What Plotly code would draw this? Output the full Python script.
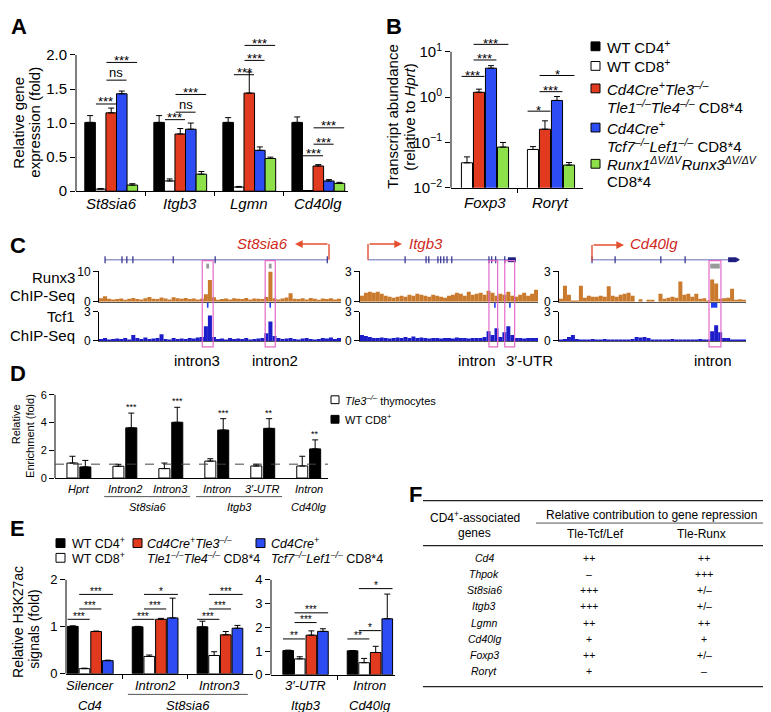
import math
import plotly.graph_objects as go

W, H = 771, 712
def X(px): return px / W
def Y(py): return 1 - py / H

FONT = "Liberation Sans, Arial, Helvetica, sans-serif"
C_CD4, C_CD8, C_TLE, C_TCF, C_RUNX = "#000000", "#FFFFFF", "#E23A1E", "#2D4CF3", "#8EE04A"
C_R3, C_T1 = "#C97A2C", "#1C1CC8"
PINK, ARW, NAMEC = "#E46AC8", "#E4502F", "#D0281C"

# ================= DATA =================
# Panel A
a_genes = ["St8sia6", "Itgb3", "Lgmn", "Cd40lg"]
a_wt_cd4 = [1.01, 1.01, 1.01, 1.01]
a_wt_cd4_err = [0.10, 0.10, 0.07, 0.08]
a_wt_cd8 = [0.03, 0.15, 0.06, 0.01]
a_wt_cd8_err = [0.01, 0.03, 0.01, 0.0]
a_tle = [1.15, 0.84, 1.44, 0.37]
a_tle_err = [0.07, 0.08, 0.31, 0.02]
a_tcf = [1.43, 0.91, 0.60, 0.15]
a_tcf_err = [0.04, 0.09, 0.05, 0.02]
a_runx = [0.09, 0.25, 0.48, 0.115]
a_runx_err = [0.02, 0.04, 0.02, 0.015]
a_sig = [(0, 1, 2, 1.28, "***"), (0, 2, 3, 1.63, "ns"), (0, 2, 4, 1.89, "***"),
         (1, 1, 2, 1.05, "***"), (1, 2, 3, 1.16, "ns"), (1, 2, 4, 1.42, "***"),
         (2, 1, 2, 1.71, "***"), (2, 2, 3, 1.92, "***"), (2, 2, 4, 2.14, "***"),
         (3, 1, 2, 0.52, "***"), (3, 2, 3, 0.69, "***"), (3, 2, 4, 0.93, "***")]

# Panel B (log scale)
b_genes = ["Foxp3", "Rorγt"]
b_wt_cd8 = [0.0356, 0.070]
b_wt_cd8_err = [0.0124, 0.011]
b_tle = [1.28, 0.196]
b_tle_err = [0.22, 0.104]
b_tcf = [4.35, 0.845]
b_tcf_err = [0.60, 0.185]
b_runx = [0.079, 0.0317]
b_runx_err = [0.021, 0.0043]
b_sig = [(0, 0, 1, 2.87, "***"), (0, 1, 2, 6.6, "***"), (0, 1, 3, 14.6, "***"),
         (1, 0, 1, 0.49, "*"), (1, 1, 2, 1.32, "***"), (1, 1, 3, 3.0, "*")]

# Panel C (ChIP-Seq signal, binned)
st8_runx3 = [1.2, 1.8, 1.0, 0.8, 0.9, 1.1, 0.7, 1.0, 1.3, 0.9,
             0.8, 1.2, 1.6, 1.0, 0.9, 1.4, 1.1, 0.8, 1.5, 1.2,
             1.0, 1.3, 0.9, 1.1, 0.8, 1.0, 2.5, 7.2, 1.5, 0.7,
             0.9, 1.1, 0.8, 1.2, 1.0, 0.9, 1.3, 0.8, 1.1, 1.0,
             0.9, 1.6, 10.0, 1.2, 0.8, 1.1, 1.4, 2.8, 1.0, 0.9,
             1.2, 0.8, 1.3, 1.0, 0.7, 1.1, 0.9, 1.2, 0.8, 1.0]
st8_tcf1 = [0.2, 0.3, 0.15, 0.2, 0.25, 0.2, 0.3, 0.15, 0.6, 0.3,
            0.2, 0.35, 0.2, 0.25, 0.3, 0.7, 0.2, 0.15, 0.3, 0.2,
            0.25, 0.2, 0.3, 0.25, 0.35, 0.4, 1.5, 2.6, 0.4, 0.2,
            0.25, 0.15, 0.3, 0.2, 0.25, 0.2, 0.3, 0.15, 0.2, 0.25,
            0.3, 0.8, 2.0, 0.5, 0.3, 0.2, 0.25, 0.3, 0.2, 0.15,
            0.25, 0.3, 0.2, 0.15, 0.2, 0.3, 0.25, 0.35, 0.2, 0.3]
itgb3_runx3 = [0.6, 0.9, 1.0, 0.9, 1.0, 0.8, 0.6, 0.5, 0.4, 0.5,
               0.6, 0.5, 0.7, 0.6, 0.8, 0.7, 0.6, 0.5, 0.7, 0.6,
               0.5, 0.4, 0.6, 0.7, 0.9, 0.8, 0.6, 1.0, 0.7, 0.8,
               0.9, 0.7, 1.1, 0.9, 0.6, 0.8, 0.7, 1.0, 0.6, 0.5,
               0.7, 0.9, 0.6, 0.8, 1.2]
itgb3_tcf1 = [0.6, 0.5, 0.4, 0.3, 0.3, 0.35, 0.3, 0.25, 0.3, 0.35,
              0.3, 0.4, 0.3, 0.45, 0.3, 0.35, 0.3, 0.25, 0.3, 0.3,
              0.25, 0.3, 0.3, 0.25, 0.35, 0.3, 0.3, 0.25, 0.3, 0.3,
              0.3, 0.4, 1.0, 0.6, 1.3, 0.4, 0.9, 1.5, 0.6, 0.3,
              0.3, 0.25, 0.3, 0.3, 0.3]
cd40lg_runx3 = [0.3, 1.6, 0.7, 0.1, 0.1, 1.6, 0.4, 0.6, 0.5, 0.5,
                0.6, 0.5, 1.55, 0.6, 0.5, 0.7, 0.8, 0.9, 0.6, 0.0,
                0.25, 0.0, 0.2, 0.2, 0.0, 0.8, 0.3, 0.4, 0.5, 0.4,
                2.0, 0.7, 0.8, 0.5, 0.8, 0.3, 0.35, 0.1, 2.2, 1.8,
                0.3, 0.35, 0.4, 1.3, 0.2, 0.25, 0.2]
cd40lg_tcf1 = [0.05, 0.2, 0.4, 0.6, 0.2, 0.1, 0.05, 0.1, 0.2, 0.1,
               0.15, 0.2, 0.05, 0.1, 0.15, 0.05, 0.05, 0.05, 0.2, 0.4,
               0.35, 0.4, 0.3, 0.15, 0.05, 0.05, 0.05, 0.15, 0.2, 0.15,
               0.1, 0.15, 0.05, 0.05, 0.05, 0.2, 0.15, 0.1, 1.0, 1.6,
               0.9, 0.3, 0.3, 0.1, 0.05, 0.05, 0.1]
# gene models / peak regions (bin units)
st8_gene = (1.0, 56.3); st8_exons = [1.0, 5.2, 6.4, 7.9, 17.9, 28.3, 56.1]
st8_boxes = [(25.1, 27.8), (40.7, 43.2)]
itgb3_gene = (1.5, 38.9); itgb3_exons = [10.9, 16.2, 16.9, 19.2, 19.9, 20.7, 21.5, 22.7, 32.1, 32.8, 33.8, 36.1]
itgb3_utr = (36.9, 38.9)
itgb3_boxes = [(32.1, 34.3), (36.1, 38.6)]
cd40lg_gene = (7.8, 44.0); cd40lg_exons = [7.8, 13.6, 25.1, 31.2]
cd40lg_utr = (42.0, 44.0)
cd40lg_boxes = [(37.2, 40.2)]

# Panel D
d_labels = ["Hprt", "Intron2", "Intron3", "Intron", "3′-UTR", "Intron"]
d_tle3 = [1.08, 0.85, 0.68, 1.22, 0.87, 0.87]
d_tle3_err = [0.49, 0.14, 0.40, 0.17, 0.12, 0.70]
d_cd8 = [0.80, 3.62, 4.02, 3.46, 3.58, 2.10]
d_cd8_err = [0.47, 1.06, 1.08, 0.82, 0.70, 0.65]
d_stars = ["", "***", "***", "***", "**", "**"]

# Panel E
e1_labels = ["Silencer", "Intron2", "Intron3"]
e1_cd4 = [1.01, 1.00, 1.00]; e1_cd4_err = [0.01, 0.01, 0.12]
e1_cd8 = [0.11, 0.37, 0.39]; e1_cd8_err = [0.01, 0.03, 0.08]
e1_tle = [0.90, 1.16, 0.83]; e1_tle_err = [0.01, 0.02, 0.07]
e1_tcf = [0.28, 1.19, 0.97]; e1_tcf_err = [0.01, 0.42, 0.06]
e1_sig = [(g, 0, 1, 1.16, "***") for g in range(3)] + \
         [(0, 1, 2, 1.38, "***"), (1, 1, 2, 1.38, "***"), (2, 1, 2, 1.38, "***")] + \
         [(0, 1, 3, 1.69, "***"), (1, 1, 3, 1.69, "*"), (2, 1, 3, 1.69, "***")]
e2_labels = ["3′-UTR", "Intron"]
e2_cd4 = [1.02, 1.01]; e2_cd4_err = [0.02, 0.01]
e2_cd8 = [0.67, 0.51]; e2_cd8_err = [0.09, 0.18]
e2_tle = [1.67, 0.94]; e2_tle_err = [0.18, 0.26]
e2_tcf = [1.83, 2.36]; e2_tcf_err = [0.11, 1.04]
e2_sig = [(0, 0, 1, 1.51, "**"), (0, 1, 2, 2.2, "***"), (0, 1, 3, 2.61, "***"),
          (1, 0, 1, 1.51, "**"), (1, 1, 2, 1.86, "*"), (1, 1, 3, 3.63, "*")]

# Panel F table
f_genes = ["Cd4", "Thpok", "St8sia6", "Itgb3", "Lgmn", "Cd40lg", "Foxp3", "Rorγt"]
f_tcf = ["++", "–", "+++", "+++", "++", "+", "++", "+"]
f_runx = ["++", "+++", "+/–", "+/–", "++", "+", "+/–", "–"]

# ================= FIGURE =================
fig = go.Figure()
ann, shp, lay = [], [], {}

def ids(n):
    return ("x" if n == 1 else f"x{n}"), ("y" if n == 1 else f"y{n}")

def txt(px, py, text, size, xanchor="center", yanchor="middle", color="black", angle=0):
    ann.append(dict(x=X(px), y=Y(py), xref="paper", yref="paper", text=text, showarrow=False,
                    font=dict(family=FONT, size=size, color=color), xanchor=xanchor,
                    yanchor=yanchor, textangle=angle, borderpad=0))

def pline(x0, y0, x1, y1, color="black", width=1, dash="solid"):
    shp.append(dict(type="line", xref="paper", yref="paper", x0=X(x0), y0=Y(y0), x1=X(x1), y1=Y(y1),
                    line=dict(color=color, width=width, dash=dash)))

def prect(x0, y0, x1, y1, fill, lc="black", lw=1):
    shp.append(dict(type="rect", xref="paper", yref="paper", x0=X(x0), y0=Y(y0), x1=X(x1), y1=Y(y1),
                    fillcolor=fill, line=dict(color=lc, width=lw)))

def axes(n, xpx, ypx, xr, yr, ytv=None, ytt=None, ylog=False, xtv=None, tfs=12, yline=True,
         xlinecolor="black"):
    xa, ya = ids(n)
    xk = "xaxis" if n == 1 else f"xaxis{n}"
    yk = "yaxis" if n == 1 else f"yaxis{n}"
    lay[xk] = dict(domain=[X(xpx[0]), X(xpx[1])], range=xr, anchor=ya, showgrid=False, zeroline=False,
                   showline=True, linecolor=xlinecolor, linewidth=1, showticklabels=False,
                   tickvals=xtv if xtv else [], ticks="outside" if xtv else "", ticklen=4,
                   tickcolor="black", fixedrange=True)
    lay[yk] = dict(domain=[Y(ypx[0]), Y(ypx[1])], range=yr, anchor=xa, type="log" if ylog else "linear",
                   showgrid=False, zeroline=False, showline=yline, linecolor="black", linewidth=1,
                   tickvals=ytv, ticktext=ytt, ticks="outside", ticklen=5, tickcolor="black",
                   tickfont=dict(family=FONT, size=tfs, color="black"), fixedrange=True)

def bars(n, ncat, series, s, bw, capw=3):
    xa, ya = ids(n)
    k = len(series)
    for i, (vals, errs, col) in enumerate(series):
        off = (i - k / 2) * s + (s - bw) / 2
        fig.add_trace(go.Bar(x=list(range(ncat)), y=vals, width=bw, offset=off,
                             marker=dict(color=col, line=dict(color="black", width=1)),
                             error_y=dict(type="data", symmetric=False, array=errs, arrayminus=[0] * ncat,
                                          color="black", thickness=1, width=capw),
                             xaxis=xa, yaxis=ya, showlegend=False, hoverinfo="skip"))

def sig(n, k, s, comps, size, log=False, yshift=2):
    xa, ya = ids(n)
    xs, ys = [], []
    for g, i, j, yv, lab in comps:
        x0 = g + (i - (k - 1) / 2) * s - 0.45 * s
        x1 = g + (j - (k - 1) / 2) * s + 0.45 * s
        xs += [x0, x1, None]; ys += [yv, yv, None]
        ann.append(dict(x=(x0 + x1) / 2, y=math.log10(yv) if log else yv, xref=xa, yref=ya, text=lab,
                        showarrow=False,
                        font=dict(family=FONT, size=13 if lab == "ns" else size, color="black"),
                        yanchor="middle", yshift=8 if lab == "ns" else yshift))
    fig.add_trace(go.Scatter(x=xs, y=ys, mode="lines", line=dict(color="black", width=1),
                             xaxis=xa, yaxis=ya, showlegend=False, hoverinfo="skip"))

def catlabels(n, labels, py, size, italic=True):
    xa, _ = ids(n)
    for i, lab in enumerate(labels):
        ann.append(dict(x=i, y=Y(py), xref=xa, yref="paper", text=f"<i>{lab}</i>" if italic else lab,
                        showarrow=False, font=dict(family=FONT, size=size, color="black"),
                        yanchor="middle"))

def yaxisline(n, v0, v1):
    xa, ya = ids(n)
    shp.append(dict(type="line", xref=f"{xa} domain", yref=ya, x0=0, x1=0, y0=v0, y1=v1,
                    line=dict(color="black", width=1)))

# ---------- Panel A ----------
axes(1, (68, 340), (180, 25), [-0.51, 3.43], [0, 2.227], ytv=[0, 0.5, 1, 1.5, 2],
     ytt=["0", "0.5", "1.0", "1.5", "2.0"], xtv=[0.5, 1.5, 2.5], tfs=15, yline=False)
yaxisline(1, 0, 2)
bars(1, 4, [(a_wt_cd4, a_wt_cd4_err, C_CD4), (a_wt_cd8, a_wt_cd8_err, C_CD8), (a_tle, a_tle_err, C_TLE),
            (a_tcf, a_tcf_err, C_TCF), (a_runx, a_runx_err, C_RUNX)], 0.153, 0.153)
sig(1, 5, 0.153, a_sig, 13, yshift=2)
catlabels(1, a_genes, 193, 15)
txt(11, 110, "Relative gene", 15, angle=-90)
txt(27, 110, "expression (fold)", 15, angle=-90)
txt(2, 12, "<b>A</b>", 22, xanchor="left")

# ---------- Panel B ----------
B_TOP, B_BOT, B_R = 20, 176.5, [-2, 1.380]
axes(2, (443, 575), (B_BOT, B_TOP), [-0.515, 1.485], B_R, ylog=True, ytv=[0.01, 0.1, 1, 10],
     ytt=["10<sup>−2</sup>", "10<sup>−1</sup>", "10<sup>0</sup>", "10<sup>1</sup>"], xtv=[0.5], tfs=15,
     yline=False)
def b_py(v):
    return B_BOT - (math.log10(v) - B_R[0]) / (B_R[1] - B_R[0]) * (B_BOT - B_TOP)
pline(443, b_py(0.01), 443, b_py(10))
bars(2, 2, [(b_wt_cd8, b_wt_cd8_err, C_CD8), (b_tle, b_tle_err, C_TLE), (b_tcf, b_tcf_err, C_TCF),
            (b_runx, b_runx_err, C_RUNX)], 0.182, 0.168)
sig(2, 4, 0.182, b_sig, 13, log=True, yshift=1)
catlabels(2, b_genes, 192, 15)
txt(385, 104, "Transcript abundance", 15, angle=-90)
txt(402, 104, "(relative to <i>Hprt</i>)", 15, angle=-90)
txt(377, 12, "<b>B</b>", 22, xanchor="left")

# legend (A, B)
leg = [(C_CD4, ["WT CD4<sup>+</sup>"], 32),
       (C_CD8, ["WT CD8<sup>+</sup>"], 52),
       (C_TLE, ["<i>Cd4Cre<sup>+</sup>Tle3<sup>–/–</sup></i>", "<i>Tle1<sup>–/–</sup>Tle4<sup>–/–</sup></i> CD8*4"], 75),
       (C_TCF, ["<i>Cd4Cre<sup>+</sup></i>", "<i>Tcf7<sup>–/–</sup>Lef1<sup>–/–</sup></i> CD8*4"], 115),
       (C_RUNX, ["<i>Runx1<sup>ΔV/ΔV</sup>Runx3<sup>ΔV/ΔV</sup></i>", "CD8*4"], 152)]
for col, lines, py in leg:
    prect(583, py - 4.5, 592, py + 4.5, col)
    for k, t in enumerate(lines):
        txt(598, py + 18 * k, t, 15, xanchor="left")

# ---------- Panel C ----------
txt(1, 235, "<b>C</b>", 22, xanchor="left")
c_panels = [
    dict(runx=st8_runx3, tcf=st8_tcf1, xpx=(91, 333), rmax=10, nr=3, nt=4),
    dict(runx=itgb3_runx3, tcf=itgb3_tcf1, xpx=(352, 530), rmax=3, nr=5, nt=6),
    dict(runx=cd40lg_runx3, tcf=cd40lg_tcf1, xpx=(551, 738), rmax=3, nr=7, nt=8),
]
for p in c_panels:
    N = len(p["runx"])
    axes(p["nr"], p["xpx"], (293, 262), [-0.5, N - 0.5], [0, p["rmax"]], ytv=[0, p["rmax"]],
         ytt=["0", str(p["rmax"])], tfs=12, xlinecolor="#555555")
    axes(p["nt"], p["xpx"], (333, 303), [-0.5, N - 0.5], [0, 3], ytv=[0, 3], ytt=["0", "3"], tfs=12,
         xlinecolor="#555555")
    for key, n, col in (("runx", p["nr"], C_R3), ("tcf", p["nt"], C_T1)):
        xa, ya = ids(n)
        fig.add_trace(go.Bar(x=list(range(N)), y=p[key], width=1.0, marker=dict(color=col, line=dict(width=0)),
                             xaxis=xa, yaxis=ya, showlegend=False, hoverinfo="skip"))

def gene_model(n, span, exons, utr=None, boxes=(), grey=(), blue=(), grey_w=0.35, blue_w=0.2):
    xa, _ = ids(n)
    def rect(x0, x1, py0, py1, fill, lc=None, lw=0):
        shp.append(dict(type="rect", xref=xa, yref="paper", x0=x0, x1=x1, y0=Y(py1), y1=Y(py0),
                        fillcolor=fill, line=dict(color=lc or fill, width=lw)))
    shp.append(dict(type="line", xref=xa, yref="paper", x0=span[0], x1=span[1], y0=Y(250), y1=Y(250),
                    line=dict(color="#9A9AD0", width=1.5)))
    for e in exons:
        rect(e - 0.15, e + 0.15, 246.5, 253.5, "#2B2B8C")
    if utr:
        rect(utr[0], utr[1], 247.5, 252.5, "#1E1E80")
    for b0, b1 in boxes:
        shp.append(dict(type="rect", xref=xa, yref="paper", x0=b0, x1=b1, y0=Y(339), y1=Y(251),
                        fillcolor="rgba(0,0,0,0)", line=dict(color=PINK, width=1.2)))
    for c in grey:
        rect(c - grey_w, c + grey_w, 254, 259, "#9A9A9A")
    for c in blue:
        rect(c - blue_w, c + blue_w, 294, 299, "#1E3CF0")

gene_model(3, st8_gene, st8_exons, boxes=st8_boxes,
           grey=[(a + b) / 2 for a, b in st8_boxes], blue=[(a + b) / 2 for a, b in st8_boxes])
gene_model(5, itgb3_gene, itgb3_exons, utr=itgb3_utr, boxes=itgb3_boxes, blue=[33.6, 37.4])
gene_model(7, cd40lg_gene, cd40lg_exons, utr=cd40lg_utr, boxes=cd40lg_boxes, grey=[38.7], blue=[38.5],
           grey_w=1.2, blue_w=0.8)
shp.append(dict(type="path", xref="x7", yref="paper",
                path=f"M 44.0 {Y(247.5)} L 45.0 {Y(250)} L 44.0 {Y(252.5)} Z", fillcolor="#1E1E80",
                line=dict(color="#1E1E80", width=0)))

def tss_arrow(xv, xhead, py_top=234, py_bot=250):
    pline(xv, py_bot, xv, py_top, color=ARW, width=1.4)
    ann.append(dict(x=X(xhead), y=Y(py_top), xref="paper", yref="paper", text="", showarrow=True,
                    ax=xv - xhead, ay=0, arrowhead=2, arrowsize=1.1, arrowwidth=1.4, arrowcolor=ARW))

tss_arrow(321, 287)
txt(281, 233, "<i>St8sia6</i>", 15, xanchor="right", color=NAMEC)
tss_arrow(360, 394)
txt(400, 233, "<i>Itgb3</i>", 15, xanchor="left", color=NAMEC)
tss_arrow(584, 616, 235, 251)
txt(621, 233, "<i>Cd40lg</i>", 15, xanchor="left", color=NAMEC)

txt(68, 268, "Runx3", 15, xanchor="right")
txt(68, 287, "ChIP-Seq", 15, xanchor="right")
txt(68, 308, "Tcf1", 15, xanchor="right")
txt(68, 327, "ChIP-Seq", 15, xanchor="right")
for lab, px in (("intron3", 189), ("intron2", 267), ("intron", 469), ("3′-UTR", 521), ("intron", 705)):
    txt(px, 353, lab, 15)

# ---------- Panel D ----------
txt(1, 366, "<b>D</b>", 22, xanchor="left")
axes(9, (47, 320), (473, 385), [-0.52, 5.42], [0, 6.21], ytv=[0, 2, 4, 6], ytt=["0", "2", "4", "6"],
     tfs=11, yline=False)
yaxisline(9, 0, 6)
shp.append(dict(type="line", xref="x9 domain", yref="y9", x0=0, x1=1, y0=1, y1=1,
                line=dict(color="#444444", width=1, dash="dash")))
bars(9, 6, [(d_tle3, d_tle3_err, C_CD8), (d_cd8, d_cd8_err, C_CD4)], 0.28, 0.24, capw=3)
for i, st in enumerate(d_stars):
    if st:
        ann.append(dict(x=i + 0.14, y=d_cd8[i] + d_cd8_err[i], xref="x9", yref="y9", text=st, showarrow=False,
                        font=dict(family=FONT, size=9, color="black"), yanchor="bottom", yshift=-1))
catlabels(9, d_labels, 484, 11)
for name, g0, g1, line in (("St8sia6", 1, 2, True), ("Itgb3", 3, 4, True), ("Cd40lg", 5, 5, False)):
    if line:
        shp.append(dict(type="line", xref="x9", yref="paper", x0=g0 - 0.45, x1=g1 + 0.42, y0=Y(492), y1=Y(492),
                        line=dict(color="#555555", width=1)))
    ann.append(dict(x=(g0 + g1) / 2, y=Y(503), xref="x9", yref="paper", text=f"<i>{name}</i>",
                    showarrow=False, font=dict(family=FONT, size=11, color="black"), yanchor="middle"))
txt(8, 418, "Relative", 11, angle=-90)
txt(22, 430, "Enrichment (fold)", 11, angle=-90)
prect(323, 389, 331, 397, C_CD8)
txt(336, 393, "<i>Tle3<sup>–/–</sup></i> thymocytes", 11, xanchor="left")
prect(323, 409, 331, 417, C_CD4)
txt(336, 413, "WT CD8<sup>+</sup>", 11, xanchor="left")

# ---------- Panel E ----------
txt(1, 525, "<b>E</b>", 22, xanchor="left")
axes(10, (58, 245), (673, 572), [-0.375, 2.51], [0, 2.104], ytv=[0, 1, 2], ytt=["0", "1", "2"],
     xtv=[0.5, 1.5], tfs=13, yline=False)
yaxisline(10, 0, 2)
bars(10, 3, [(e1_cd4, e1_cd4_err, C_CD4), (e1_cd8, e1_cd8_err, C_CD8), (e1_tle, e1_tle_err, C_TLE),
             (e1_tcf, e1_tcf_err, C_TCF)], 0.18, 0.165)
sig(10, 4, 0.18, e1_sig, 10, yshift=3)
catlabels(10, e1_labels, 685, 13)
ann.append(dict(x=0, y=Y(705), xref="x10", yref="paper", text="<i>Cd4</i>", showarrow=False,
                font=dict(family=FONT, size=13, color="black"), yanchor="middle"))
ann.append(dict(x=1.5, y=Y(705), xref="x10", yref="paper", text="<i>St8sia6</i>", showarrow=False,
                font=dict(family=FONT, size=13, color="black"), yanchor="middle"))
shp.append(dict(type="line", xref="x10", yref="paper", x0=0.58, x1=2.43, y0=Y(694), y1=Y(694),
                line=dict(color="#555555", width=1)))

axes(11, (263, 387), (674, 572), [-0.537, 1.39], [0, 4.206], ytv=[0, 1, 2, 3, 4],
     ytt=["0", "1", "2", "3", "4"], xtv=[0.5], tfs=13, yline=False)
yaxisline(11, 0, 4)
bars(11, 2, [(e2_cd4, e2_cd4_err, C_CD4), (e2_cd8, e2_cd8_err, C_CD8), (e2_tle, e2_tle_err, C_TLE),
             (e2_tcf, e2_tcf_err, C_TCF)], 0.18, 0.165)
sig(11, 4, 0.18, e2_sig, 10, yshift=3)
catlabels(11, e2_labels, 685, 13)
for i, name in enumerate(["Itgb3", "Cd40lg"]):
    ann.append(dict(x=i, y=Y(705), xref="x11", yref="paper", text=f"<i>{name}</i>", showarrow=False,
                    font=dict(family=FONT, size=13, color="black"), yanchor="middle"))
txt(10, 620, "Relative H3K27ac", 14, angle=-90)
txt(26, 628, "signals (fold)", 14, angle=-90)
# legend E
prect(48, 535, 57, 544, C_CD4); txt(63, 539, "WT CD4<sup>+</sup>", 12.5, xanchor="left")
prect(48, 550, 57, 559, C_CD8); txt(63, 555, "WT CD8<sup>+</sup>", 12.5, xanchor="left")
prect(125, 535, 134, 544, C_TLE)
txt(138, 539, "<i>Cd4Cre<sup>+</sup>Tle3<sup>–/–</sup></i>", 12.5, xanchor="left")
txt(138, 555, "<i>Tle1<sup>–/–</sup>Tle4<sup>–/–</sup></i> CD8*4", 12.5, xanchor="left")
prect(248, 535, 257, 544, C_TCF)
txt(262, 539, "<i>Cd4Cre<sup>+</sup></i>", 12.5, xanchor="left")
txt(262, 555, "<i>Tcf7<sup>–/–</sup>Lef1<sup>–/–</sup></i> CD8*4", 12.5, xanchor="left")

# ---------- Panel F ----------
txt(400, 490, "<b>F</b>", 22, xanchor="left")
pline(415, 496, 770, 496, color="#222222", width=1.2)
pline(528, 519, 770, 519, color="#555555", width=1)
pline(415, 542, 770, 542, color="#222222", width=1.2)
pline(415, 686, 770, 686, color="#222222", width=1.2)
txt(467, 513, "CD4<sup>+</sup>-associated", 12)
txt(467, 529, "genes", 12)
txt(643, 511, "Relative contribution to gene repression", 12)
txt(587, 530, "Tle-Tcf/Lef", 12)
txt(693, 530, "Tle-Runx", 12)
for i, (g, a, b) in enumerate(zip(f_genes, f_tcf, f_runx)):
    py = 555 + 16.4 * i
    txt(476, py, f"<i>{g}</i>", 10.5)
    txt(581, py, a, 10.5)
    txt(696, py, b, 10.5)

fig.update_layout(**lay)
fig.update_layout(width=W, height=H, margin=dict(l=0, r=0, t=0, b=0), paper_bgcolor="white",
                  plot_bgcolor="rgba(0,0,0,0)", barmode="overlay", annotations=ann, shapes=shp,
                  font=dict(family=FONT, color="black"), showlegend=False)
fig.write_html("out.html")
